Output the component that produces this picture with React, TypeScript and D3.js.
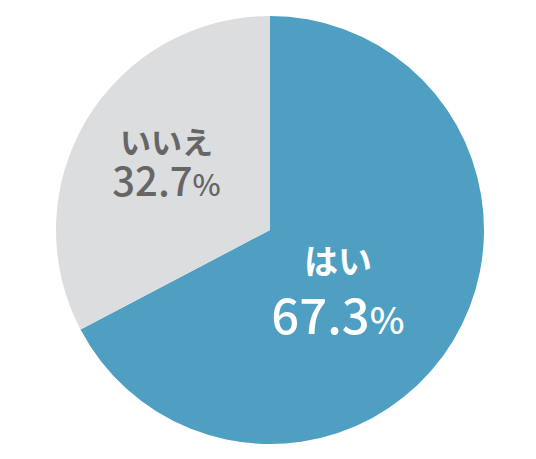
import React from "react";
import * as d3 from "d3";

const categories = ["はい", "いいえ"];
const values = [67.3, 32.7];
const colors = ["#4E9FC1", "#DCDDDF"];
const textColors = ["#FFFFFF", "#666666"];

const W = 536;
const H = 459;
const cx = 270;
const cy = 230;
const R = 214;

// label centre positions relative to pie centre (polar: angle in degrees clockwise from top, distance)
const labelPolar = [
  { angle: 135, dist: 96 },
  { angle: 302, dist: 122 },
];
const labelSizes = [
  { name: 34, num: 49, pct: 37, nameY: -24, numY: 36 },
  { name: 31, num: 40, pct: 30, nameY: -11, numY: 31 },
];

export default function App() {
  const pie = d3
    .pie<number>()
    .sort(null)
    .value((d) => d);
  const arcs = pie(values);
  const arc = d3.arc<d3.PieArcDatum<number>>().innerRadius(0).outerRadius(R);

  return (
    <svg
      width={W}
      height={H}
      style={{ position: "absolute", left: 0, top: 0, background: "#fff" }}
    >
      <g transform={`translate(${cx},${cy})`}>
        {arcs.map((a, i) => (
          <path key={i} d={arc(a) || ""} fill={colors[i]} />
        ))}
        {arcs.map((a, i) => {
          const p = labelPolar[i];
          const rad = (p.angle * Math.PI) / 180;
          const x = Math.sin(rad) * p.dist;
          const y = -Math.cos(rad) * p.dist;
          const s = labelSizes[i];
          return (
            <g
              key={"l" + i}
              transform={`translate(${x},${y})`}
              fill={textColors[i]}
              fontFamily="'Noto Sans CJK JP', 'Noto Sans', sans-serif"
              fontWeight={700}
              textAnchor="middle"
            >
              <text y={s.nameY} fontSize={s.name}>
                {categories[i]}
              </text>
              <text y={s.numY} fontSize={s.num} fontWeight={500}>
                {values[i].toFixed(1)}
                <tspan fontSize={s.pct}>%</tspan>
              </text>
            </g>
          );
        })}
      </g>
    </svg>
  );
}
